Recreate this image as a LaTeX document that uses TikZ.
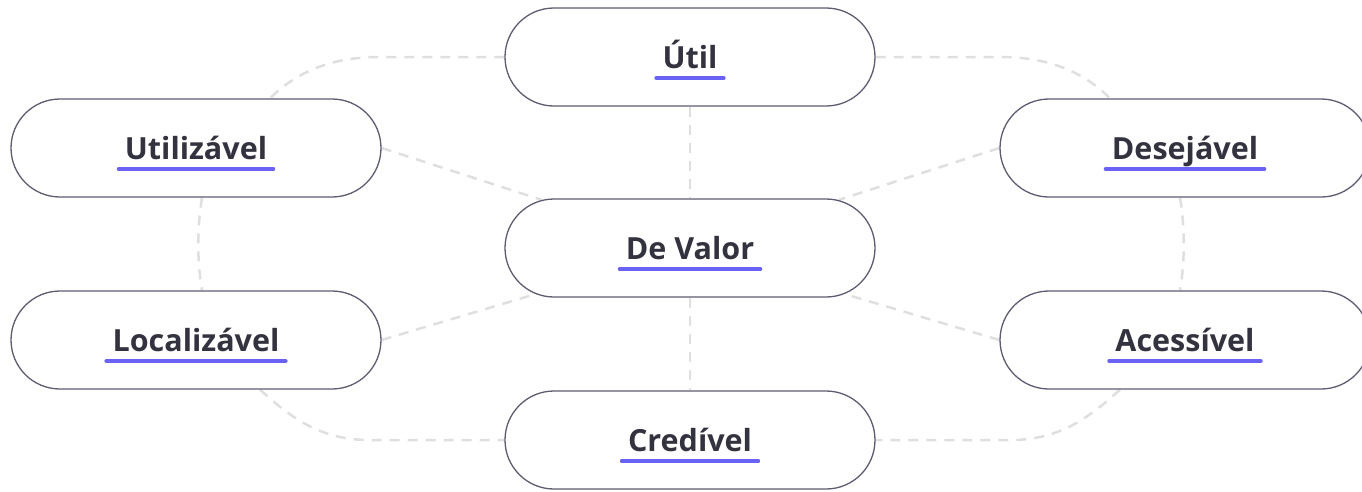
\documentclass[tikz,border=0pt]{standalone}
\usepackage{fontspec}
\setmainfont{Open Sans}
\usetikzlibrary{calc,shapes.misc,backgrounds}
\definecolor{boxline}{HTML}{5E5C72}
\definecolor{txt}{HTML}{33323F}
\definecolor{ulc}{HTML}{6A62F5}
\definecolor{dashc}{HTML}{DFDFDF}
\newcommand\pilllabel[2]{%
  \node[lbl] (#1-t) at ($(#1)+(0,11)$) {#2};
  \draw[ulin] ([shift={(-6,10)}]#1-t.base west) -- ([shift={(6,10)}]#1-t.base east);
}
\begin{document}
\begin{tikzpicture}[x=1pt,y=-1pt,
  pill/.style={rounded rectangle, draw=boxline, line width=1.3pt, fill=white,
    minimum width=370pt, minimum height=98pt, inner sep=0pt},
  lbl/.style={font=\bfseries\fontsize{30.5}{36}\selectfont, text=txt, inner sep=0pt, anchor=base},
  ulin/.style={draw=ulc, line width=4pt, line cap=round},
  link/.style={draw=dashc, line width=2.5pt, dash pattern=on 10pt off 8pt}]
\useasboundingbox (0,0) rectangle (1362,491);

\node[pill] (utl) at (690,57) {};
\node[pill] (uz)  at (196,148) {};
\node[pill] (de)  at (1185,148) {};
\node[pill] (dv)  at (690,248) {};
\node[pill] (lo)  at (196,340) {};
\node[pill] (ac)  at (1185,340) {};
\node[pill] (cr)  at (690,440) {};

\pilllabel{utl}{Útil}
\pilllabel{uz}{Utilizável}
\pilllabel{de}{Desejável}
\pilllabel{dv}{De Valor}
\pilllabel{lo}{Localizável}
\pilllabel{ac}{Acessível}
\pilllabel{cr}{Credível}

\begin{scope}[on background layer]
  % outer ring
  \draw[link] (utl.west) -- ++(-125,0) .. controls +(-50,0) and +(25,-25) .. ($(uz.north)+(74,0)$);
  \draw[link] (utl.east) -- ++(125,0) .. controls +(50,0) and +(-25,-25) .. ($(de.north)+(-75,0)$);
  \draw[link] ($(uz.south)+(6,0)$) .. controls +(-5,30) and +(-5,-30) .. ($(lo.north)+(6,0)$);
  \draw[link] ($(de.south)+(-5,0)$) .. controls +(5,30) and +(5,-30) .. ($(ac.north)+(-5,0)$);
  \draw[link] ($(lo.south)+(64,0)$) .. controls +(30,27) and +(-50,0) .. ($(cr.west)+(-135,0)$) -- (cr.west);
  \draw[link] ($(ac.south)+(-65,0)$) .. controls +(-30,27) and +(50,0) .. ($(cr.east)+(135,0)$) -- (cr.east);
  % spokes
  \draw[link] (utl.south) -- (dv.north);
  \draw[link] (dv.south) -- (cr.north);
  \draw[link] (uz.east) -- (dv);
  \draw[link] (lo.east) -- (dv);
  \draw[link] (de.west) -- (dv);
  \draw[link] (ac.west) -- (dv);
\end{scope}
\end{tikzpicture}
\end{document}
